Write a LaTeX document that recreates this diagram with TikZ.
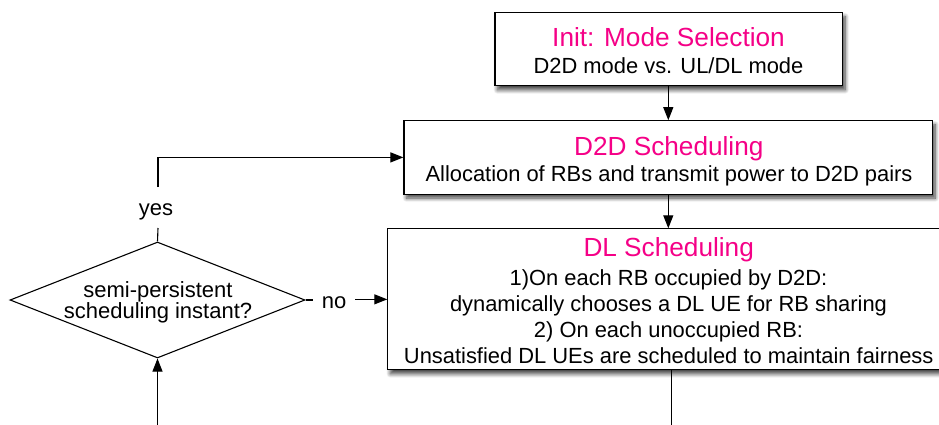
\documentclass[tikz,border=0pt]{standalone}
\usepackage{fontspec}
\setmainfont{Liberation Sans}
\usetikzlibrary{shapes.geometric,shadows,shadows.blur,arrows.meta}
\definecolor{titlepink}{RGB}{245,0,135}
\begin{document}
\begin{tikzpicture}[x=1pt,y=-1pt,
  box/.style={draw, line width=1.1pt, fill=white, inner sep=0pt,
    blur shadow={shadow xshift=2.5pt, shadow yshift=-4pt, shadow blur radius=4pt, shadow blur steps=10, shadow opacity=75}},
  ttl/.style={text=titlepink, font=\fontsize{26.2}{30}\selectfont, anchor=base, inner sep=0pt},
  txt/.style={font=\fontsize{21.9}{26}\selectfont, anchor=base, inner sep=0pt},
  lbl/.style={font=\fontsize{22}{26}\selectfont, anchor=base, inner sep=0pt},
  arr/.style={line width=1.1pt, -{Triangle[length=13pt,width=10pt]}},
  ln/.style={line width=1.1pt},
  dec/.style={draw, diamond, line width=1.1pt, inner sep=0pt, minimum width=295pt, minimum height=116pt}]
\useasboundingbox (0,0) rectangle (939,425);
\clip (0,0) rectangle (939,425);
% boxes
\node[box, minimum width=347.7pt, minimum height=73.3pt] (init) at (668.8,49.3) {};
\node[box, minimum width=528.7pt, minimum height=73.3pt] (d2d) at (668.3,157.4) {};
\node[box, minimum width=620pt, minimum height=141pt, anchor=north west] (dl) at (387.3,228.3) {};
\node[dec] (dia) at (157.5,300) {};
% texts
\node[ttl] (t1) at (668.5,46.7) {Init: Mode Selection};
\node[txt] (s1) at (668.5,74) {D2D mode vs. UL/DL mode};
\node[ttl] (t2) at (668.8,155) {D2D Scheduling};
\node[txt] (s2) at (669,181.7) {Allocation of RBs and transmit power to D2D pairs};
\node[ttl] (t3) at (668.7,256.7) {DL Scheduling};
\node[txt] (l1) at (668.5,285) {1)On each RB occupied by D2D:};
\node[txt] (l2) at (668.5,311) {dynamically chooses a DL UE for RB sharing};
\node[txt] (l3) at (668.5,337.3) {2) On each unoccupied RB:};
\node[txt] (l4) at (668.7,363.3) {Unsatisfied DL UEs are scheduled to maintain fairness};
\node[lbl] (q1) at (158,297) {semi-persistent};
\node[lbl] (q2) at (158,318) {scheduling instant?};
\node[lbl] (yes) at (156,215) {yes};
\node[lbl] (no) at (334,308) {no};
% coordinates
\coordinate (yesb) at (158,228);
\coordinate (yest) at (158,187);
\coordinate (noa) at (313,300);
\coordinate (nob) at (355,300);
\coordinate (bot1) at (157.5,432);
\coordinate (bot2) at (671.7,432);
% connectors
\draw[arr] (init.south -| d2d.north) -- (d2d.north);
\draw[arr] (d2d.south) -- (d2d.south |- dl.north);
\draw[ln] (dia.north) -- (yesb);
\draw[arr] (yest) |- (d2d.west);
\draw[ln] (dia.east) -- (noa);
\draw[arr] (dl.west -| nob) -- (dl.west);
\draw[arr] (bot1) -- (dia.south);
\draw[ln] (dl.south -| bot2) -- (bot2);
\end{tikzpicture}
\end{document}
